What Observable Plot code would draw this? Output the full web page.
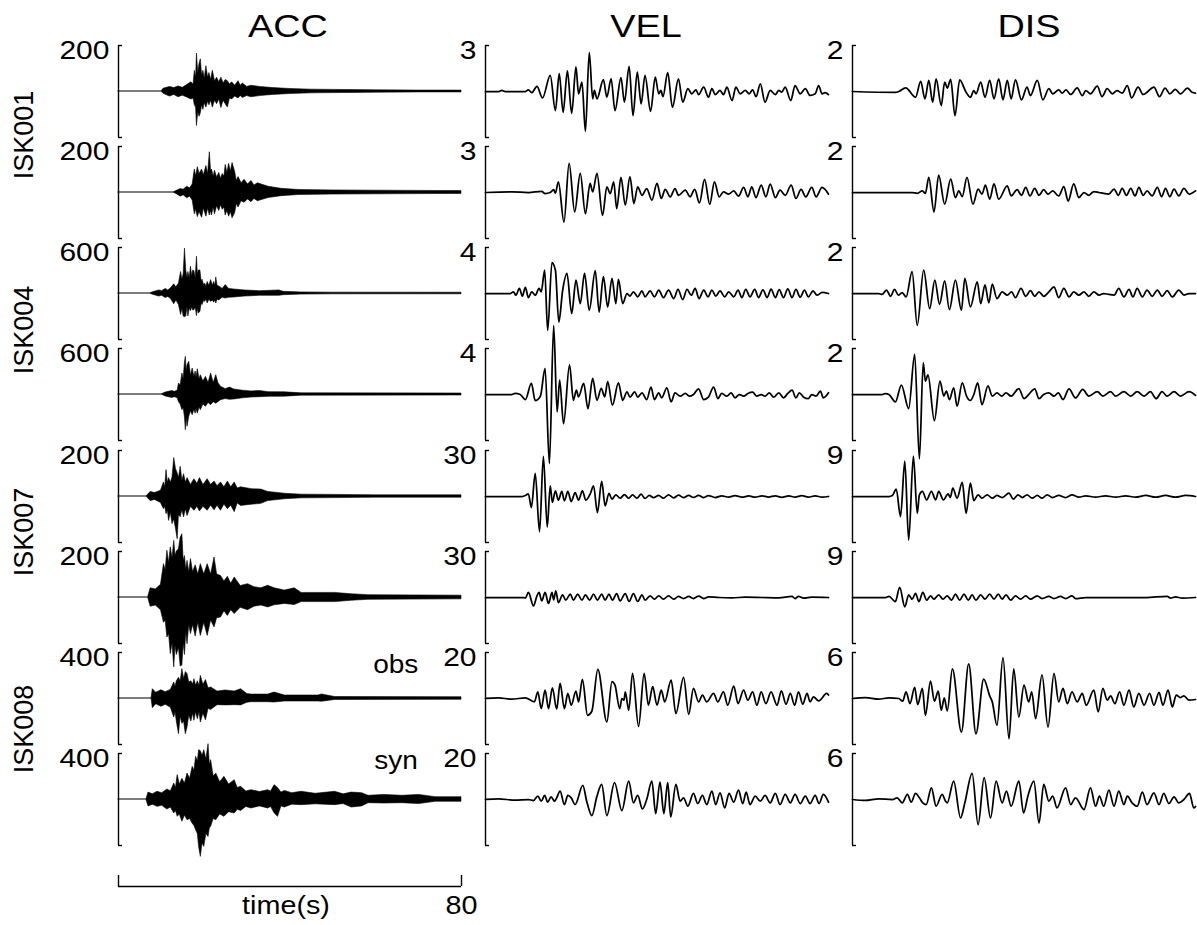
<!DOCTYPE html>
<html><head><meta charset="utf-8">
<script src="https://cdn.jsdelivr.net/npm/d3@7"></script>
<script src="https://cdn.jsdelivr.net/npm/@observablehq/plot@0.6"></script>
<style>
body{margin:0;background:#fff;}
#chart{position:relative;width:1197px;height:925px;font-family:"Liberation Sans",Arial,Helvetica,sans-serif;color:#000;overflow:hidden;background:#fff;}
.panel{position:absolute;}
.lbl{position:absolute;white-space:nowrap;line-height:1;}
</style></head><body><div id="chart"></div>
<script>
// ---- labels ----
const columnTitles = ["ACC", "VEL", "DIS"];
const stationLabels = ["ISK001", "ISK004", "ISK007", "ISK008"];
const traceKinds = ["obs", "syn"];
const timeAxisLabel = "time(s)";
const timeTicks = [0, 80];

// ---- full-scale (tick) values per row ----
const accScale = [200, 200, 600, 600, 200, 200, 400, 400];
const velScale = [3, 3, 4, 4, 30, 30, 20, 20];
const disScale = [2, 2, 2, 2, 9, 9, 6, 6];

// ---- acceleration envelopes: [time s, upper, lower] ----
const acc1 = [[0,0,0],[10,0,0],[10.5,12,-10],[12,20,-22],[13,15,-15],[14,22,-25],[15,16,-18],[16,28,-26],[17,40,-35],[17.5,30,-30],[17.8,90,-60],[18.1,60,-70],[18.3,165,-150],[18.6,80,-90],[18.9,120,-110],[19.2,140,-95],[19.5,70,-60],[19.8,90,-80],[20.1,55,-50],[20.5,110,-70],[20.9,60,-45],[21.2,80,-60],[21.6,50,-40],[22,90,-70],[22.5,45,-40],[23,60,-55],[23.5,40,-35],[24,60,-72],[24.5,35,-40],[25,50,-55],[25.5,45,-70],[26,30,-30],[26.5,40,-35],[27.2,25,-22],[28,45,-30],[28.5,25,-20],[29,35,-28],[30,20,-20],[31,25,-25],[33,20,-20],[36,15,-15],[40,11,-11],[45,8,-8],[50,7,-7],[55,6,-6],[60,5,-5],[70,4,-4],[80,4,-4]];
const acc2 = [[0,0,0],[12.8,0,0],[13.5,6,-6],[14.5,15,-18],[15.2,12,-12],[16,25,-25],[16.7,18,-18],[17.3,35,-35],[17.8,100,-95],[18.1,70,-75],[18.5,110,-107],[18.9,80,-85],[19.5,100,-110],[19.9,75,-70],[20.5,115,-105],[20.9,80,-70],[21.3,175,-100],[21.6,90,-80],[21.8,100,-100],[22.2,70,-65],[22.5,95,-95],[23,65,-60],[23.5,85,-80],[23.9,60,-55],[24.3,80,-75],[24.7,70,-65],[25,120,-100],[25.4,85,-80],[25.8,125,-105],[26.2,90,-85],[26.6,128,-112],[27.2,90,-90],[27.6,50,-50],[28,67,-65],[28.7,40,-38],[29.4,55,-45],[30.2,35,-30],[31,50,-42],[31.7,30,-28],[32.5,40,-38],[35,25,-24],[38,16,-16],[42,11,-11],[50,9,-9],[60,8,-8],[70,7,-7],[80,6,-6]];
const acc3 = [[0,0,0],[7.3,0,0],[8,15,-15],[9.5,40,-40],[10.2,30,-30],[11,60,-60],[11.6,40,-45],[12.2,65,-70],[13,120,-140],[13.5,80,-90],[14.1,130,-150],[14.6,280,-280],[14.9,180,-200],[15.2,250,-300],[15.5,585,-310],[15.8,300,-300],[16.1,200,-180],[16.3,280,-300],[16.6,200,-200],[16.9,350,-230],[17.2,220,-180],[17.4,300,-220],[17.7,290,-220],[18,200,-180],[18.3,480,-295],[18.5,250,-200],[18.7,300,-260],[19.1,300,-240],[19.4,150,-130],[19.6,180,-150],[20,100,-90],[20.2,130,-110],[20.5,90,-80],[20.8,150,-130],[21.2,100,-80],[21.6,175,-110],[22,100,-90],[22.3,150,-120],[22.6,100,-90],[22.8,210,-130],[23.1,100,-80],[23.5,90,-90],[24.3,60,-55],[25,110,-65],[25.8,60,-55],[27,52,-52],[29.4,40,-40],[33,30,-30],[37.5,40,-30],[38.5,22,-22],[42.7,14,-14],[50,11,-11],[80,10,-10]];
const acc4 = [[0,0,0],[10,0,0],[11,25,-25],[12.5,45,-45],[13.2,35,-35],[13.8,50,-50],[14.1,143,-100],[14.5,120,-130],[14.9,274,-204],[15.2,200,-180],[15.5,420,-300],[15.7,491,-465],[15.9,300,-300],[16.1,380,-420],[16.5,426,-291],[16.9,250,-220],[17.3,339,-270],[17.7,230,-200],[18,300,-250],[18.2,220,-190],[18.5,330,-250],[18.9,200,-170],[19.2,252,-204],[19.8,170,-130],[20.4,230,-160],[21,150,-110],[21.6,274,-139],[22.2,150,-100],[22.8,252,-120],[23.3,150,-100],[23.9,100,-74],[25,70,-60],[26,90,-70],[27,65,-65],[29,50,-50],[31,40,-40],[33,45,-35],[35,30,-30],[38.8,28,-28],[42.7,15,-15],[80,13,-13]];
const acc5 = [[0,0,0],[6.5,0,0],[7.5,20,-20],[8.5,15,-15],[9.9,25,-28],[10.6,61,-55],[10.9,40,-45],[11.2,115,-77],[11.5,60,-60],[11.8,80,-106],[12.2,60,-70],[12.6,83,-120],[13,167,-100],[13.4,120,-140],[13.8,100,-186],[14.1,80,-80],[14.5,129,-90],[14.9,70,-60],[15.3,97,-91],[15.7,60,-55],[16.1,80,-85],[16.9,50,-45],[17.7,75,-62],[18.4,55,-45],[19,80,-65],[19.8,50,-45],[20.8,75,-62],[21.6,50,-40],[22.4,65,-60],[23.1,45,-40],[23.9,61,-62],[24.7,40,-35],[25.5,65,-55],[26.3,40,-40],[27.1,61,-68],[27.8,35,-30],[28.6,40,-41],[31,32,-36],[33.3,30,-32],[34.9,20,-20],[38.8,12,-12],[42.7,8,-8],[50.5,7,-7],[60,5,-5],[80,5,-5]];
const acc6 = [[0,0,0],[6.9,0,0],[7.5,40,-40],[8.7,35,-35],[9.9,55,-55],[10.6,145,-110],[11,120,-100],[11.4,203,-174],[11.8,150,-160],[12.2,218,-246],[12.6,170,-200],[13,246,-304],[13.3,180,-210],[13.6,200,-250],[14.1,210,-220],[14.5,260,-300],[14.9,275,-296],[15.2,160,-200],[15.5,180,-250],[15.8,120,-150],[16.1,159,-203],[16.5,110,-120],[16.9,167,-159],[17.4,110,-120],[18,140,-170],[18.6,100,-110],[19.2,145,-167],[20,100,-110],[20.8,145,-167],[21.6,100,-100],[22.4,174,-130],[23,100,-90],[23.9,94,-87],[24.7,70,-60],[25.5,90,-80],[26.3,60,-55],[27.1,87,-72],[28.5,50,-45],[30.2,58,-55],[31.7,45,-40],[33.3,40,-35],[34.9,51,-43],[36.4,40,-34],[38.8,30,-28],[41.1,40,-33],[42.7,20,-20],[50.5,20,-20],[54.4,14,-14],[58.3,10,-10],[80,8,-8]];
const acc7 = [[0,0,0],[7.7,0,0],[8,81,-84],[8.8,50,-50],[10,72,-72],[11,55,-55],[12.2,75,-80],[13,139,-165],[13.3,100,-120],[13.6,150,-200],[14.1,180,-310],[14.5,150,-160],[14.9,255,-220],[15.3,170,-200],[15.7,230,-310],[16.1,212,-252],[16.5,140,-150],[17,150,-200],[17.4,120,-130],[17.7,168,-194],[18.1,110,-120],[18.5,150,-180],[18.9,110,-120],[19.2,197,-209],[19.8,120,-130],[20.4,160,-190],[21,90,-90],[21.6,96,-100],[23.1,60,-58],[25,70,-60],[27.1,60,-58],[28.6,81,-60],[30,40,-38],[31,34,-32],[34.9,34,-32],[36.4,52,-35],[38.8,26,-26],[46.6,26,-26],[47.5,35,-28],[50.5,13,-13],[80,11,-11]];
const acc8 = [[0,0,0],[6.5,0,0],[7,60,-60],[8,45,-45],[9.1,67,-64],[10.2,55,-55],[11.4,87,-87],[12.2,70,-70],[13,139,-122],[13.4,100,-100],[13.8,212,-150],[14.3,130,-130],[14.9,180,-194],[15.5,140,-140],[16.1,226,-180],[16.7,180,-170],[17.3,284,-210],[17.7,250,-230],[18.1,371,-267],[18.5,330,-300],[18.8,429,-412],[19.2,420,-499],[19.6,380,-380],[20,429,-412],[20.5,350,-300],[21,481,-325],[21.3,300,-250],[21.6,342,-238],[22.2,200,-170],[22.8,226,-180],[23.7,150,-130],[24.7,197,-151],[25.8,130,-110],[27.1,168,-122],[27.8,100,-90],[28.6,110,-100],[29.8,70,-65],[31,81,-78],[33,65,-60],[34.9,81,-78],[35.6,70,-65],[36.4,125,-120],[37.2,100,-151],[38,60,-60],[38.8,75,-70],[40.5,55,-45],[42.7,67,-49],[46,50,-42],[50.5,67,-49],[52.5,45,-40],[54.4,60,-70],[56.8,55,-60],[58.3,32,-32],[62,40,-35],[66.2,32,-32],[70.1,40,-40],[74,20,-20],[80,20,-20]];

// ---- velocity: [time s, value] (extrema) ----
const vel1 = [[0,0],[3.1,0],[3.8,0.07],[4.6,0],[9.3,0],[10,0.11],[10.8,-0.07],[12,0.33],[13.3,-0.42],[15.1,1.05],[16.3,-1.25],[17.2,1.16],[18.1,-1.36],[19.1,1.34],[20.1,-1.42],[21.1,1.6],[21.7,-0.15],[22.5,0.61],[23.3,-2.6],[24.2,2.54],[25,-0.48],[25.4,0.07],[26,-0.48],[27.5,0.77],[28.3,-0.37],[29.3,0.83],[30.2,-1.25],[31.6,0.9],[32.4,-0.7],[33.5,1.64],[34.4,-1.58],[35.4,1.27],[36.3,-0.81],[37.2,1.05],[38.5,-1.29],[39.6,0.94],[40.4,-0.15],[40.9,0.07],[41.4,-0.33],[42.5,1.23],[43.6,-1.03],[45,0.83],[46,-0.7],[47.2,0.18],[48.1,-0.15],[49.1,0.11],[49.7,-0.2],[50.9,0.28],[52,-0.37],[52.8,0.18],[53.6,-0.2],[54.7,0.07],[55.5,-0.2],[56.3,0.28],[57.5,-0.59],[58.4,0.28],[59.4,-0.15],[60.6,0.07],[61.5,-0.15],[62.3,0.11],[63.1,-0.33],[64.1,0.5],[65.2,-0.7],[66.4,0.07],[67.6,-0.2],[68.4,0.07],[69.1,-0.04],[69.9,0.28],[71.2,-0.59],[72.2,0.39],[73.4,-0.15],[74.6,0.18],[75.7,-0.26],[76.9,-0.15],[77.7,0.39],[78.5,-0.15],[79.2,-0.07],[80,-0.2]];
const vel2 = [[0,0],[6.2,0.04],[10,0],[13.1,0.07],[13.9,-0.07],[15.1,0],[15.9,0.18],[16.3,-0.04],[17,0.7],[18.3,-1.93],[19.5,1.9],[20.8,-1.27],[22.1,1.25],[23.3,-1.38],[24.4,0.59],[25,0.04],[26,1.25],[27.3,-1.49],[28.3,0.37],[29.1,-0.07],[29.9,0.7],[30.6,-1.05],[31.6,0.99],[32.6,-0.83],[33.7,1.03],[34.6,-0.72],[35.5,0.37],[36.5,-0.18],[37.6,0.26],[38.8,-0.5],[40,0.59],[41,-0.39],[41.9,0.2],[43.1,-0.28],[44.2,0.26],[45,-0.18],[46.6,0.15],[47.7,-0.28],[48.8,0.2],[49.9,-0.68],[51.1,0.85],[52.3,-0.77],[53.4,0.7],[54.5,-0.28],[55.5,0.04],[56.7,-0.11],[57.9,0.11],[59,-0.24],[60.2,0.33],[61.2,-0.28],[62.1,0.37],[63.1,-0.33],[64.3,0.48],[65.4,-0.28],[66.4,0.55],[67.6,-0.33],[68.7,0.15],[69.9,-0.18],[71.3,0.48],[72.4,-0.39],[73.6,0.2],[74.7,-0.28],[76.1,0.33],[77.1,-0.28],[78.5,0.33],[80,-0.11]];
const vel3 = [[0,0],[5.8,0],[6.5,0.15],[7.1,-0.15],[7.9,0.44],[8.6,-0.23],[9.3,0.53],[10,-0.35],[10.8,0.15],[11.6,-0.15],[12.5,0.44],[13,0.15],[13.8,2.04],[14.5,-3.21],[15.5,2.69],[16.3,2.04],[17.1,-2.48],[18,0.29],[19,1.75],[20.1,-1.75],[21.1,1.17],[22.1,-0.88],[23.1,1.75],[24.2,-1.46],[25.6,1.99],[26.5,-1.61],[27.5,1.46],[28.5,-1.17],[29.5,1.31],[30.4,-0.88],[31,1.23],[32,-0.88],[33,0],[33.7,-0.23],[34.5,0.15],[35.5,-0.29],[36.5,0.23],[37.2,-0.29],[38.4,0.23],[39.4,-0.29],[40.4,0.29],[41.5,-0.35],[42.7,0.29],[43.9,-0.44],[44.9,0.35],[46,-0.53],[47,0.35],[48,-0.15],[48.9,0.44],[49.8,-0.44],[50.9,0.29],[51.9,-0.29],[52.8,0.29],[53.7,-0.23],[54.7,0.23],[55.8,-0.29],[56.7,0.15],[57.9,-0.29],[58.9,0.29],[59.8,-0.35],[60.7,0.35],[61.7,-0.29],[62.8,0.35],[63.7,-0.35],[64.7,0.32],[65.7,-0.35],[66.6,0.38],[67.6,-0.35],[68.5,0.33],[69.5,-0.35],[70.5,0.41],[71.5,-0.35],[72.4,0.35],[73.4,-0.32],[74.4,0.29],[75.3,-0.29],[76.4,0.23],[77.3,-0.15],[78.5,0.09],[80,0]];
const vel4 = [[0,0],[6.1,0],[6.9,0.09],[8.1,0],[9.3,-0.44],[10.7,0.96],[11.6,-0.53],[12.8,-0.15],[13.9,2.28],[14.9,-6.0],[15.9,6.0],[16.7,-1.52],[17.3,1.26],[18.2,-2.54],[19.6,2.57],[20.5,-0.5],[21.2,0.38],[21.7,-0.2],[22.9,0.96],[23.9,-1.23],[25,1.4],[26,-0.5],[27,0.53],[27.8,-0.2],[28.5,1.11],[29.6,-0.93],[31,1.02],[32,-0.5],[33,0.23],[33.7,-0.23],[34.8,0.23],[35.5,-0.23],[36.5,0.15],[37.6,-0.44],[38.6,0.64],[39.4,-0.44],[40.4,0.15],[41.1,-0.29],[42.3,0.58],[43.3,-0.64],[44.2,0.15],[45.4,-0.15],[46.6,0.09],[47.6,-0.15],[48.5,0],[49.7,0.5],[50.9,-0.44],[52,-0.23],[53.2,0.64],[54.2,-0.35],[55.1,0.09],[56.3,-0.15],[57.3,0.15],[58.2,-0.29],[59.2,0],[60.2,-0.15],[61.2,0.09],[62.3,0.2],[63.3,-0.15],[64.3,0],[65.2,-0.15],[66.2,0.15],[67.2,-0.23],[68.4,0.15],[69.5,-0.29],[70.5,0.09],[71.5,0.38],[72.4,-0.29],[73.2,0.15],[74.2,-0.23],[75.3,-0.35],[76.1,0],[77.1,-0.15],[78.1,0.29],[78.8,-0.29],[80,0.15]];
const vel5 = [[0,0],[8.5,0],[9.3,0.66],[10,1.75],[10.7,-7.2],[11.6,15.1],[12.6,-23],[13.5,26.1],[14.4,-19.9],[15.1,7],[15.6,-3.9],[16.3,3.7],[17,-2.4],[17.8,3.3],[18.4,-2.8],[19.2,3.3],[20,-3.3],[20.9,2.6],[21.7,-2.4],[22.6,3.7],[23.4,-2.4],[24.4,1.5],[25.2,7],[26.1,-10.5],[27.1,9.9],[27.9,-6.1],[28.8,2],[29.5,-1.75],[30.4,1.1],[31.4,-1.1],[32.4,1.3],[33.4,-1.1],[34.3,1.1],[35.3,-1.1],[36.3,1.5],[37.2,-1.3],[38.2,0.66],[39.2,-0.66],[40.4,0.7],[41.5,-1.1],[42.7,1.1],[43.9,-0.88],[45,0.9],[46.2,-0.8],[47.4,0.66],[48.5,-0.6],[49.7,0.66],[50.9,-0.7],[52,0.6],[53.6,-0.66],[55.1,0.44],[56.7,-0.4],[58.2,0.5],[59.8,-0.44],[61.4,0.35],[62.9,-0.44],[64.5,0.44],[66,-0.35],[67.6,0.44],[69.1,-0.5],[70.7,0.44],[72.2,-0.4],[73.8,0.5],[75.3,-0.44],[76.9,0.4],[78.5,-0.44],[80,0]];
const vel6 = [[0,0],[8.9,0],[9.3,-0.44],[10,3.3],[11.2,-5.5],[12,1.1],[12.5,3.3],[13.1,-2.2],[13.9,3.3],[14.7,-3.9],[15.5,3.3],[15.9,-1.5],[16.4,4.4],[17,-3.3],[18,1.75],[18.7,-1.75],[19.8,2.2],[20.5,-1.75],[21.5,2.2],[22.5,-1.75],[23.3,1.75],[24.3,-1.75],[25.2,2.2],[26.1,-1.75],[27.1,2.2],[27.9,-1.75],[28.8,2.2],[29.6,-1.75],[30.6,2.6],[31.4,-2.2],[32.6,2.6],[33.5,-2.6],[34.5,2.6],[35.5,-2.6],[36.5,1.75],[37.2,-1.75],[38.4,1.1],[39.4,-1.1],[40.4,1.1],[41.5,-1.1],[42.7,1.1],[43.9,-1.1],[45,0.66],[46.2,-0.66],[47.4,0.66],[48.5,-0.66],[49.7,0.88],[50.9,-0.66],[52,0.44],[54.4,0],[57.5,-0.22],[60.6,0.22],[64.5,0],[68.4,-0.22],[71.5,0.66],[72.2,-0.66],[73,0.66],[74.2,-0.44],[76.1,0.22],[80,0]];
const vel7 = [[0,0],[3,0.29],[6.1,-0.29],[9.3,0.29],[11.4,-1.46],[12.2,2.92],[13,-4.38],[13.9,3.65],[14.7,-4.38],[15.6,4.67],[16.6,-4.67],[17.4,6.57],[18.4,-4.38],[19.2,2.19],[20,-2.92],[21.1,3.21],[21.7,-1.46],[22.6,8.32],[23.8,-7.3],[24.8,-5.55],[26.2,12.7],[28.3,-10.2],[29.5,7.3],[30.2,5.84],[31.3,-4.38],[31.8,0],[32.3,-0.73],[32.6,2.92],[33.4,-5.11],[34.3,10.95],[35.7,-12.1],[37,10.95],[38,-2.92],[39,5.11],[40,-2.92],[41,3.65],[41.8,-1.46],[43.3,8.03],[44.4,-6.57],[46.2,9.2],[47.4,-6.86],[48.5,4.38],[49.7,-1.46],[50.6,1.46],[51.6,-1.46],[53.2,2.19],[54.2,-1.46],[55.5,2.92],[56.5,-2.92],[57.9,5.4],[58.9,-2.19],[60.2,3.65],[61.2,-0.73],[62.3,2.92],[63.3,-2.92],[64.3,2.92],[65.4,-2.19],[66.6,2.92],[68,-2.92],[69,3.36],[70.1,-2.48],[71.1,2.19],[72.1,-2.92],[73,2.92],[74,-2.48],[75,2.19],[75.7,-1.46],[76.5,0.73],[77.7,-1.02],[79.6,2.19],[80,1.5]];
const vel8 = [[0,0],[3,0.29],[6.9,-0.29],[10,0],[11.2,-0.44],[12.2,1.46],[13,-0.73],[13.8,1.75],[14.5,-1.17],[15.3,1.17],[16.1,-0.73],[16.6,0.73],[17.4,3.65],[18.4,-2.19],[19.2,1.75],[20,0.73],[20.9,-2.19],[22.7,6.13],[23.6,-0.73],[24.8,-7],[26,1.46],[27.1,6.57],[28.3,-7],[30.1,7.3],[31.8,-4.82],[33.4,8.03],[34.5,-1.46],[35.5,1.75],[36.6,-4.09],[37.6,0],[38.8,8.03],[39.7,-6.13],[40.7,7.6],[41.6,-6.13],[42.5,7.3],[43.2,-7.6],[44.4,6.57],[45.4,-0.73],[46.2,0.73],[47.2,-2.92],[48.5,2.63],[49.5,-1.75],[50.6,1.75],[51.6,-2.19],[52.8,3.65],[53.7,-2.19],[54.7,2.92],[55.8,-3.65],[56.8,2.63],[57.9,-1.17],[59,4.09],[60,-1.75],[60.8,3.21],[61.7,-2.19],[62.9,1.46],[64.1,-0.73],[65.2,1.75],[66.4,-1.46],[67.6,2.63],[68.7,-2.19],[69.9,2.19],[71.1,-1.46],[72.2,2.19],[73.4,-1.75],[74.6,1.46],[75.7,-1.75],[76.9,1.75],[77.8,-1.75],[78.8,2.19],[80,-1.17]];

// ---- displacement: [time s, value] ----
const dis1 = [[0,0],[10,-0.04],[10.8,0],[12.4,0.16],[14.7,-0.25],[15.9,0.44],[16.9,-0.32],[17.8,0.48],[18.7,-0.47],[19.5,0.55],[20.7,-0.61],[21.5,0.41],[22.1,0.15],[22.9,0.53],[23.9,-1.05],[25,0.51],[26.4,0],[27.5,-0.25],[28.3,0.04],[28.8,-0.1],[29.9,0.41],[30.9,-0.25],[32,0.48],[33,-0.32],[34.1,0.55],[35.1,-0.36],[36.1,0.48],[37,-0.32],[38,0.51],[39.4,-0.36],[40.7,0.19],[41.5,-0.18],[43.1,0.48],[44.4,-0.36],[45.8,0.12],[46.7,-0.1],[48.1,0.07],[48.9,-0.07],[49.8,0.07],[50.9,-0.13],[52.4,0.16],[53.6,-0.18],[54.4,0.04],[55.5,-0.1],[57.1,0.23],[58.2,-0.22],[59.4,0.12],[60.6,-0.1],[61.7,0.04],[62.9,-0.07],[64.1,0.26],[65.1,-0.28],[66.6,0.19],[67.8,-0.13],[68.7,-0.03],[70.3,0.19],[71.6,-0.22],[72.9,0.15],[74,-0.1],[75.3,0.09],[76.5,-0.1],[78.1,0.15],[79.2,-0.03],[80,-0.07]];
const dis2 = [[0,0],[13.9,0],[15.1,-0.04],[16.3,0.07],[17,-0.04],[17.8,0.66],[19,-0.85],[20.1,0.76],[21.5,-0.51],[22.9,0.58],[24,-0.22],[24.8,0.07],[25.6,-0.18],[26.7,0.66],[28.1,-0.51],[29.3,0.15],[30.2,-0.07],[31,0.32],[32,-0.29],[33,0.37],[34.1,-0.29],[36.1,0.29],[37,-0.15],[38.4,0.12],[39.4,-0.12],[40.4,0.22],[41.4,-0.15],[42.5,0.18],[43.5,-0.12],[44.6,0.12],[45.6,-0.07],[46.7,0.07],[48.1,-0.15],[49.3,0.26],[50.3,-0.37],[51.6,0.37],[52.8,-0.22],[54,0],[55.1,-0.12],[56.3,0.04],[57.5,0],[58.6,-0.04],[59.8,-0.07],[61,0.15],[62,-0.12],[62.9,0.18],[63.9,-0.12],[64.9,0.18],[65.9,-0.15],[66.8,0.22],[67.8,-0.12],[68.7,0.07],[69.9,-0.15],[71.1,0.22],[72.1,-0.18],[73,0.18],[74,-0.18],[75,0.15],[76.1,-0.15],[77.3,0.18],[78.5,-0.07],[80,0.07]];
const dis3 = [[0,0],[6.1,0],[6.9,-0.04],[7.9,0.15],[8.9,-0.12],[9.8,0.18],[10.7,-0.07],[11.6,0.04],[12.5,-0.15],[13.9,0.95],[15.1,-1.39],[16.6,1.02],[18,-0.66],[19.2,0.58],[20.3,-0.47],[21.5,0.55],[22.6,-0.7],[24,0.58],[25.4,-0.73],[26.2,0.66],[27.5,-0.58],[29.1,0.51],[29.9,-0.44],[30.9,0.37],[31.8,-0.41],[32.6,0.41],[33.7,-0.22],[34.9,0.07],[36.1,-0.07],[37.1,0.07],[38,-0.18],[39.3,0.22],[40.4,-0.12],[41.5,0.12],[42.5,-0.12],[43.5,0.07],[44.6,-0.12],[45.8,0.07],[47,0.29],[48.1,-0.18],[49.3,0.22],[50.5,-0.15],[51.6,0.07],[52.8,-0.07],[54,0.07],[55.1,-0.12],[56.3,0.07],[57.5,-0.07],[58.6,0],[59.8,-0.04],[61,-0.07],[62.1,0.22],[63.3,-0.15],[64.5,0.18],[65.4,-0.15],[66.4,0.22],[67.6,-0.15],[68.7,0.15],[69.9,-0.12],[71.1,0.15],[72.2,-0.12],[73.4,0.12],[74.6,-0.15],[76.1,0.15],[77.3,-0.07],[78.5,0],[80,0]];
const dis4 = [[0,0],[6.9,0],[7.7,0.04],[8.5,0],[10,-0.32],[11.4,0.41],[13.1,-0.61],[14.5,1.75],[15.6,-2.8],[16.5,1.39],[17,0.58],[17.6,0.85],[19.1,-1.14],[20.4,0.58],[21.3,-0.07],[21.9,0.15],[22.6,-0.22],[23.6,0.29],[24.4,-0.51],[25.6,0.51],[26.6,-0.07],[27.5,-0.26],[28.3,0],[29.2,0.51],[30.2,-0.44],[31.6,0.37],[32.6,-0.07],[33.7,0.07],[34.8,-0.07],[35.8,0.07],[37,-0.07],[38.8,0.26],[40,-0.18],[41.1,0],[42.5,0.25],[43.5,-0.18],[44.6,0],[45.8,0.07],[47,-0.07],[48,0.07],[49.1,-0.22],[50.5,0.25],[52,-0.15],[53.7,0.22],[55.1,-0.07],[57.1,0.12],[58.4,-0.07],[60.2,0.12],[61.4,-0.07],[63.3,0.12],[64.9,-0.07],[66.4,0.12],[68,-0.07],[69.5,0.12],[70.8,-0.18],[72.2,0.12],[73.4,-0.07],[75,0.12],[76.5,-0.07],[78.5,0.12],[80,-0.04]];
const dis5 = [[0,0],[8.5,0],[9.3,0.2],[10.2,1.45],[11.2,-3.94],[12.2,6.9],[13.1,-8.54],[14.2,7.88],[15.1,-3.29],[15.6,0.33],[16.3,0.99],[17.3,-0.66],[18.4,0.99],[19.4,-0.66],[20.1,0.99],[21.2,-0.66],[22.3,0.53],[22.8,-0.2],[23.4,1.64],[24.4,-0.33],[25.6,2.76],[26.5,-3.29],[27.5,2.63],[28.3,-0.79],[29.3,0.33],[30.2,-0.33],[31.4,0.33],[32.6,-0.33],[33.7,0.2],[34.9,-0.2],[36.5,0.66],[37.5,-0.53],[38.6,0.33],[39.6,-0.2],[40.7,0.33],[41.9,-0.33],[43.1,0.2],[44.2,-0.33],[45.4,0.33],[46.6,-0.2],[48.1,0.2],[49.7,-0.2],[51.2,0.33],[52.8,-0.13],[54.4,0.13],[56.7,-0.13],[59,0.13],[61.4,-0.13],[63.7,0.13],[66,-0.13],[68.4,0.2],[70.7,-0.13],[73,0.2],[75.3,-0.13],[77.7,0.2],[80,0]];
const dis6 = [[0,0],[7.7,0],[8.5,0.2],[10,-0.79],[11,1.97],[12.2,-1.84],[13.1,0.53],[13.9,-0.33],[14.7,0.79],[15.5,-0.79],[16.4,0.99],[17.3,-0.53],[18.2,0.33],[19,-0.33],[20.1,0.53],[21.1,-0.33],[22.1,0.33],[23.1,-0.53],[24,0.66],[25,-0.53],[26,0.66],[27,-0.53],[27.9,0.53],[28.8,-0.53],[29.9,0.53],[30.9,-0.33],[32,0.66],[33,-0.33],[34,0.66],[34.9,-0.33],[35.8,0.53],[36.9,-0.53],[38,0.33],[39.2,-0.33],[40.4,0.33],[41.5,-0.33],[43.1,0.33],[44.2,-0.2],[45.8,0.2],[47,-0.2],[48.5,0.2],[49.7,-0.2],[51.2,0.33],[52,-0.2],[54.4,0],[60.6,0],[68.4,0],[73.4,0.2],[74.2,-0.13],[75.3,0.13],[76.9,-0.13],[80,0]];
const dis7 = [[0,0],[3,0.13],[6.1,-0.09],[8.5,0.09],[10.8,0],[11.7,-0.35],[12.5,0.88],[13.4,-0.66],[14.5,1.45],[15.2,-0.79],[16.3,1.31],[17,-2.19],[18.2,2.28],[19.1,-0.35],[20,0.96],[20.7,-1.53],[21.4,0.09],[22.1,-1.62],[23.3,3.85],[25.4,-4.38],[27.1,4.51],[28.8,-4.6],[30.6,2.54],[32,0.35],[32.6,-0.44],[33.7,-3.5],[35.1,5.34],[36.5,-5.26],[37.6,3.85],[38.8,-2.41],[40,1.75],[41.1,-0.44],[41.8,0.88],[42.7,-2.63],[44.2,3.07],[45.6,-3.72],[47,3.29],[48.1,-0.44],[49.1,1.31],[50.1,-0.66],[51.2,0.88],[52.4,-0.44],[53.6,0.66],[54.5,-0.88],[56.3,1.1],[57.3,-1.75],[58.4,1.31],[59.4,-0.22],[60.2,0.35],[61.2,-0.66],[62.3,0.88],[63.3,-0.88],[64.5,1.1],[65.6,-1.1],[66.8,0.66],[68,-0.88],[69.3,0.66],[70.3,-0.88],[71.5,0.79],[72.4,-0.88],[73.6,1.1],[74.6,-1.1],[75.5,0.44],[76.5,0.13],[77.3,0.35],[78.5,-0.22],[80,-0.13]];
const dis8 = [[0,0],[3,-0.13],[6.1,0.09],[9.3,0],[10.4,0.22],[11.6,-0.44],[12.8,0.66],[13.7,-0.35],[14.7,0.79],[15.6,0.22],[16.4,-0.44],[17.2,-0.66],[18.4,1.53],[19.5,-0.88],[20.9,0.66],[21.7,-0.22],[22.1,-0.44],[23.6,2.41],[25.2,-2.41],[26.2,-0.44],[27.9,3.42],[29.3,-3.29],[30.7,2.85],[32.2,-2.41],[33.5,2.41],[34.9,-0.44],[35.9,1.1],[37,-0.88],[38.8,2.41],[39.9,-1.75],[40.9,0.44],[42.3,2.41],[43.5,-3.07],[44.6,1.97],[45.8,-0.22],[46.7,0.44],[47.7,-1.1],[49.7,1.53],[50.9,-0.66],[52,0.22],[54,-1.31],[55.5,1.53],[56.7,-0.88],[57.6,0.44],[58.6,-0.88],[59.8,1.23],[61,-0.88],[62.1,1.1],[63.3,-0.66],[64.1,0.44],[65.2,-0.44],[66.4,-0.88],[67.6,0.96],[68.7,-0.66],[70.3,0.88],[71.5,-0.66],[72.6,0.79],[73.8,-0.53],[75,0.35],[76.1,-0.44],[77.3,0],[78.6,0.79],[79.6,-1.1],[80,-0.9]];

// ---- assemble ----
const accData = [acc1, acc2, acc3, acc4, acc5, acc6, acc7, acc8];
const velData = [vel1, vel2, vel3, vel4, vel5, vel6, vel7, vel8];
const disData = [dis1, dis2, dis3, dis4, dis5, dis6, dis7, dis8];
const scales = [accScale, velScale, disScale];

// ---- layout (pixels) ----
const FONT = '"Liberation Sans", Arial, Helvetica, sans-serif';
const colLeft = [117.5, 484.8, 852];
const panelW = 343, panelH = 92;
const rowTop = r => 44.8 + 101.2 * r;
const TEXT_STRETCH = 1.2;

const chart = document.getElementById("chart");

function stretchTexts(svg, k) {
  svg.querySelectorAll('g[aria-label="text"] text').forEach(t => {
    t.setAttribute("transform", (t.getAttribute("transform") || "") + ` scale(${k},1)`);
  });
}

function makePanel(r, c) {
  const s = scales[c][r];
  const marks = [];
  if (c === 0) {
    marks.push(Plot.areaY(accData[r], {x: d => d[0], y1: d => d[2], y2: d => d[1], fill: "black", stroke: "black", strokeWidth: 0.6}));
  } else {
    const data = c === 1 ? velData[r] : disData[r];
    marks.push(Plot.line(data, {x: d => d[0], y: d => d[1], stroke: "black", strokeWidth: 1.75, curve: "monotone-x"}));
  }
  marks.push(Plot.ruleX([0], {y1: -s, y2: s, stroke: "black", strokeWidth: 1.4}));
  marks.push(Plot.tickY([-s, s], {stroke: "black", strokeWidth: 1.4, insetRight: panelW - 4}));
  marks.push(Plot.text([s], {y: d => d, text: d => String(d), frameAnchor: "left", textAnchor: "end", dx: -9, dy: 5, fontSize: 25, fill: "black"}));
  const svg = Plot.plot({
    width: panelW, height: panelH,
    marginTop: 0, marginBottom: 0, marginLeft: 0, marginRight: 0,
    x: {domain: [0, 80], axis: null},
    y: {domain: [-s, s], axis: null},
    style: {background: "transparent", overflow: "visible", fontFamily: FONT, maxWidth: "none"},
    marks
  });
  stretchTexts(svg, TEXT_STRETCH);
  const div = document.createElement("div");
  div.className = "panel";
  div.style.left = colLeft[c] + "px";
  div.style.top = rowTop(r) + "px";
  div.appendChild(svg);
  chart.appendChild(div);
}

for (let c = 0; c < 3; c++) for (let r = 0; r < 8; r++) makePanel(r, c);

// time axis under the ACC column
{
  const svg = Plot.plot({
    width: panelW, height: 11,
    marginTop: 0, marginBottom: 0, marginLeft: 0, marginRight: 0,
    x: {domain: [0, 80], axis: null},
    y: {domain: [0, 1], axis: null},
    style: {background: "transparent", overflow: "visible", fontFamily: FONT, maxWidth: "none"},
    marks: [
      Plot.ruleY([0], {stroke: "black", strokeWidth: 1.4}),
      Plot.tickX(timeTicks, {x: d => d, stroke: "black", strokeWidth: 1.4}),
      Plot.text([timeTicks[1]], {x: d => d, text: d => String(d), frameAnchor: "bottom", lineAnchor: "top", dy: 10, fontSize: 25, fill: "black"}),
      Plot.text([timeAxisLabel], {text: d => d, frameAnchor: "bottom", lineAnchor: "top", dy: 10, dx: -4, fontSize: 25, fill: "black"})
    ]
  });
  stretchTexts(svg, 1.15);
  const div = document.createElement("div");
  div.className = "panel";
  div.style.left = colLeft[0] + "px";
  div.style.top = "875px";
  div.appendChild(svg);
  chart.appendChild(div);
}

// column titles
const titleCenters = [287.5, 646, 1029];
columnTitles.forEach((t, i) => {
  const d = document.createElement("div");
  d.className = "lbl";
  d.textContent = t;
  d.style.fontSize = "31px";
  d.style.left = titleCenters[i] + "px";
  d.style.top = (37.3 - 0.8465 * 31) + "px";
  d.style.transform = "translateX(-50%) scaleX(1.22)";
  chart.appendChild(d);
});

// station labels (rotated)
const stationCenters = [135, 330, 532, 729];
stationLabels.forEach((t, i) => {
  const d = document.createElement("div");
  d.className = "lbl";
  d.textContent = t;
  d.style.fontSize = "27px";
  d.style.left = "23.5px";
  d.style.top = stationCenters[i] + "px";
  d.style.transform = "translate(-50%,-50%) rotate(-90deg)";
  chart.appendChild(d);
});

// obs / syn labels
const kindBaselines = [672.7, 769.3];
traceKinds.forEach((t, i) => {
  const d = document.createElement("div");
  d.className = "lbl";
  d.textContent = t;
  d.style.fontSize = "25px";
  d.style.right = (1197 - 418) + "px";
  d.style.top = (kindBaselines[i] - 0.8465 * 25) + "px";
  d.style.transformOrigin = "right center";
  d.style.transform = "scaleX(1.12)";
  chart.appendChild(d);
});
</script>
</body></html>
